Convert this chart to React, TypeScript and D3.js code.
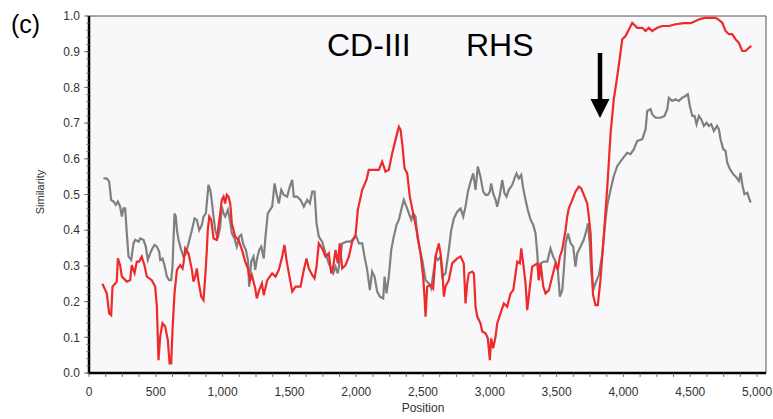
import React from "react";
import * as d3 from "d3";

// sliding-window similarity, query vs. two references
const redPos = [100, 133, 151, 166, 176, 208, 216, 233, 246, 283, 308, 320, 341, 358, 376, 395, 415, 433, 470, 495, 508, 520, 533, 550, 570, 590, 603, 615, 625, 640, 658, 683, 700, 707, 720, 745, 770, 782, 795, 807, 820, 840, 857, 870, 882, 889, 900, 915, 932, 957, 969, 982, 994, 1007, 1019, 1031, 1044, 1057, 1069, 1094, 1119, 1132, 1149, 1169, 1189, 1206, 1219, 1244, 1256, 1274, 1294, 1308, 1334, 1371, 1396, 1421, 1446, 1463, 1478, 1496, 1521, 1546, 1583, 1608, 1628, 1645, 1671, 1688, 1703, 1720, 1745, 1770, 1795, 1813, 1828, 1845, 1862, 1877, 1895, 1920, 1945, 1970, 1995, 2012, 2045, 2077, 2094, 2144, 2169, 2194, 2219, 2244, 2269, 2294, 2319, 2332, 2344, 2362, 2382, 2401, 2431, 2457, 2481, 2501, 2511, 2519, 2531, 2556, 2576, 2594, 2606, 2618, 2631, 2644, 2656, 2668, 2693, 2718, 2756, 2781, 2805, 2818, 2831, 2843, 2868, 2881, 2893, 2906, 2930, 2943, 2968, 2985, 3000, 3010, 3025, 3043, 3055, 3080, 3105, 3130, 3155, 3175, 3193, 3205, 3225, 3235, 3250, 3267, 3280, 3300, 3317, 3335, 3355, 3367, 3380, 3400, 3417, 3442, 3467, 3492, 3509, 3524, 3542, 3554, 3567, 3579, 3591, 3617, 3641, 3666, 3684, 3709, 3729, 3741, 3754, 3760, 3772, 3791, 3808, 3828, 3850, 3879, 3904, 3928, 3954, 3978, 3991, 4016, 4041, 4066, 4103, 4141, 4166, 4190, 4215, 4253, 4290, 4340, 4390, 4452, 4502, 4540, 4577, 4615, 4652, 4690, 4714, 4740, 4764, 4789, 4814, 4839, 4864, 4889, 4914, 4939, 4957];
const redSim = [0.25, 0.223, 0.167, 0.162, 0.242, 0.256, 0.321, 0.302, 0.27, 0.256, 0.26, 0.302, 0.28, 0.312, 0.312, 0.326, 0.302, 0.27, 0.26, 0.242, 0.186, 0.036, 0.102, 0.139, 0.13, 0.092, 0.027, 0.027, 0.12, 0.223, 0.289, 0.302, 0.293, 0.307, 0.349, 0.335, 0.289, 0.256, 0.27, 0.293, 0.256, 0.214, 0.204, 0.27, 0.345, 0.4, 0.438, 0.429, 0.377, 0.373, 0.41, 0.447, 0.485, 0.494, 0.475, 0.499, 0.494, 0.475, 0.419, 0.382, 0.373, 0.359, 0.34, 0.312, 0.293, 0.26, 0.274, 0.237, 0.209, 0.232, 0.251, 0.218, 0.26, 0.279, 0.27, 0.289, 0.326, 0.359, 0.317, 0.279, 0.228, 0.242, 0.242, 0.289, 0.321, 0.293, 0.274, 0.265, 0.298, 0.363, 0.349, 0.326, 0.335, 0.279, 0.298, 0.345, 0.307, 0.363, 0.293, 0.302, 0.326, 0.368, 0.387, 0.457, 0.513, 0.541, 0.569, 0.569, 0.569, 0.592, 0.564, 0.569, 0.615, 0.653, 0.69, 0.681, 0.643, 0.573, 0.559, 0.494, 0.438, 0.391, 0.335, 0.27, 0.214, 0.158, 0.242, 0.247, 0.237, 0.326, 0.345, 0.363, 0.335, 0.289, 0.214, 0.242, 0.26, 0.307, 0.321, 0.326, 0.307, 0.195, 0.251, 0.279, 0.284, 0.279, 0.186, 0.158, 0.139, 0.116, 0.111, 0.097, 0.036, 0.097, 0.069, 0.102, 0.139, 0.167, 0.195, 0.186, 0.223, 0.232, 0.279, 0.312, 0.307, 0.349, 0.307, 0.251, 0.176, 0.242, 0.298, 0.302, 0.307, 0.26, 0.307, 0.242, 0.223, 0.232, 0.27, 0.307, 0.289, 0.326, 0.345, 0.373, 0.4, 0.438, 0.461, 0.485, 0.508, 0.522, 0.517, 0.494, 0.475, 0.438, 0.391, 0.33, 0.22, 0.19, 0.19, 0.26, 0.37, 0.52, 0.673, 0.767, 0.832, 0.897, 0.935, 0.944, 0.962, 0.981, 0.967, 0.967, 0.958, 0.967, 0.958, 0.967, 0.972, 0.972, 0.977, 0.98, 0.98, 0.986, 0.992, 0.995, 0.995, 0.995, 0.989, 0.981, 0.958, 0.949, 0.949, 0.935, 0.925, 0.902, 0.902, 0.911, 0.916];

const greyPos = [108, 133, 151, 166, 183, 201, 216, 233, 246, 258, 271, 283, 296, 316, 333, 346, 371, 383, 408, 425, 440, 458, 470, 490, 508, 525, 533, 550, 565, 583, 600, 615, 625, 640, 650, 658, 670, 690, 707, 725, 745, 770, 790, 807, 825, 845, 857, 875, 894, 907, 915, 932, 945, 964, 982, 994, 1007, 1019, 1039, 1057, 1069, 1089, 1106, 1124, 1139, 1156, 1174, 1189, 1199, 1214, 1231, 1244, 1256, 1274, 1289, 1308, 1321, 1338, 1371, 1389, 1403, 1421, 1439, 1458, 1483, 1503, 1521, 1533, 1558, 1583, 1608, 1633, 1653, 1671, 1688, 1703, 1720, 1745, 1770, 1795, 1813, 1828, 1845, 1862, 1882, 1895, 1927, 1957, 1982, 2002, 2020, 2045, 2062, 2082, 2102, 2119, 2137, 2157, 2177, 2202, 2212, 2227, 2244, 2262, 2281, 2302, 2319, 2337, 2356, 2376, 2394, 2412, 2427, 2444, 2457, 2476, 2494, 2519, 2543, 2561, 2581, 2594, 2611, 2631, 2644, 2668, 2693, 2711, 2731, 2756, 2781, 2801, 2818, 2836, 2856, 2876, 2893, 2910, 2930, 2950, 2968, 2985, 3000, 3010, 3025, 3043, 3055, 3075, 3093, 3110, 3125, 3142, 3168, 3185, 3200, 3217, 3235, 3250, 3267, 3284, 3305, 3325, 3342, 3355, 3367, 3380, 3404, 3430, 3454, 3474, 3492, 3509, 3524, 3542, 3554, 3567, 3585, 3605, 3624, 3641, 3654, 3679, 3703, 3723, 3734, 3748, 3758, 3774, 3791, 3816, 3841, 3866, 3879, 3904, 3928, 3954, 3991, 4028, 4053, 4078, 4103, 4141, 4166, 4178, 4203, 4215, 4240, 4278, 4308, 4328, 4340, 4365, 4390, 4415, 4440, 4465, 4482, 4497, 4515, 4532, 4547, 4565, 4582, 4602, 4622, 4639, 4657, 4677, 4700, 4714, 4727, 4747, 4764, 4777, 4797, 4822, 4847, 4864, 4877, 4889, 4906, 4927, 4939, 4952];
const greySim = [0.545, 0.545, 0.536, 0.485, 0.48, 0.471, 0.48, 0.466, 0.438, 0.461, 0.461, 0.391, 0.326, 0.317, 0.363, 0.373, 0.368, 0.377, 0.373, 0.354, 0.317, 0.335, 0.345, 0.359, 0.354, 0.34, 0.317, 0.321, 0.302, 0.27, 0.26, 0.26, 0.298, 0.447, 0.438, 0.4, 0.373, 0.345, 0.326, 0.335, 0.363, 0.4, 0.433, 0.429, 0.4, 0.415, 0.438, 0.447, 0.527, 0.513, 0.494, 0.438, 0.4, 0.377, 0.41, 0.466, 0.447, 0.438, 0.457, 0.424, 0.391, 0.377, 0.354, 0.382, 0.387, 0.359, 0.345, 0.317, 0.242, 0.312, 0.326, 0.289, 0.317, 0.345, 0.354, 0.321, 0.382, 0.447, 0.466, 0.531, 0.503, 0.475, 0.513, 0.499, 0.494, 0.522, 0.541, 0.494, 0.494, 0.485, 0.466, 0.485, 0.475, 0.508, 0.508, 0.419, 0.382, 0.368, 0.335, 0.307, 0.289, 0.279, 0.298, 0.279, 0.326, 0.363, 0.368, 0.368, 0.377, 0.382, 0.363, 0.363, 0.326, 0.289, 0.232, 0.284, 0.27, 0.228, 0.214, 0.209, 0.27, 0.223, 0.27, 0.345, 0.382, 0.415, 0.429, 0.457, 0.485, 0.466, 0.447, 0.429, 0.447, 0.438, 0.382, 0.345, 0.317, 0.26, 0.251, 0.237, 0.289, 0.326, 0.317, 0.326, 0.27, 0.279, 0.345, 0.4, 0.433, 0.452, 0.461, 0.438, 0.466, 0.508, 0.536, 0.559, 0.513, 0.578, 0.55, 0.508, 0.499, 0.499, 0.508, 0.531, 0.503, 0.485, 0.466, 0.499, 0.541, 0.503, 0.494, 0.513, 0.527, 0.545, 0.559, 0.545, 0.555, 0.517, 0.485, 0.457, 0.429, 0.415, 0.391, 0.335, 0.26, 0.307, 0.312, 0.312, 0.349, 0.326, 0.312, 0.289, 0.214, 0.232, 0.289, 0.363, 0.391, 0.363, 0.354, 0.298, 0.335, 0.354, 0.373, 0.4, 0.419, 0.363, 0.289, 0.232, 0.252, 0.275, 0.33, 0.43, 0.47, 0.514, 0.552, 0.58, 0.599, 0.617, 0.613, 0.627, 0.65, 0.655, 0.683, 0.734, 0.739, 0.725, 0.715, 0.715, 0.72, 0.739, 0.771, 0.762, 0.767, 0.762, 0.771, 0.776, 0.781, 0.748, 0.72, 0.72, 0.697, 0.72, 0.711, 0.692, 0.701, 0.692, 0.697, 0.678, 0.692, 0.683, 0.655, 0.627, 0.622, 0.589, 0.571, 0.557, 0.547, 0.538, 0.561, 0.529, 0.501, 0.505, 0.491, 0.477];

const xTicks = [0, 500, 1000, 1500, 2000, 2500, 3000, 3500, 4000, 4500, 5000];
const yTicks = [0, 0.1, 0.2, 0.3, 0.4, 0.5, 0.6, 0.7, 0.8, 0.9, 1.0];

const W = 773;
const H = 419;
const left = 89, right = 766, top = 16, bottom = 373;
const font = "'Liberation Sans', Arial, Helvetica, sans-serif";

export default function App() {
  const x = d3.scaleLinear().domain([0, 5067]).range([left, right]);
  const y = d3.scaleLinear().domain([0, 1]).range([bottom, top]);

  const path = (pos: number[], val: number[]) =>
    d3
      .line<number>()
      .x((_, i) => x(pos[i]))
      .y((_, i) => y(val[i]))(val) || "";

  const fmt = d3.format(",");
  const minorX = d3.range(0, 5067, 125);
  const minorY = d3.range(0, 1.0001, 0.02);
  const arrowX = 600; // arrow marks the breakpoint just before 4,000

  return (
    <svg width={W} height={H} style={{ position: "absolute", left: 0, top: 0, background: "#fff" }}>
      <rect x={left} y={top} width={right - left} height={bottom - top} fill="#f8f7fa" />

      {/* frame */}
      <line x1={left} x2={right} y1={top} y2={top} stroke="#555" strokeWidth={1} />
      <line x1={right} x2={right} y1={top} y2={bottom} stroke="#555" strokeWidth={1} />

      {/* series */}
      <path d={path(greyPos, greySim)} fill="none" stroke="#808080" strokeWidth={2.2} />
      <path d={path(redPos, redSim)} fill="none" stroke="#ee2a2a" strokeWidth={2.2} />

      {/* axes */}
      <line x1={left} x2={left} y1={top} y2={bottom + 1} stroke="#000" strokeWidth={2.5} />
      <line x1={left - 1} x2={right} y1={bottom} y2={bottom} stroke="#000" strokeWidth={2.5} />

      {minorX.map((t) => (
        <line key={"mx" + t} x1={x(t)} x2={x(t)} y1={bottom} y2={bottom + 4} stroke="#555" strokeWidth={0.8} />
      ))}
      {minorY.map((t) => (
        <line key={"my" + t} x1={left - 3} x2={left} y1={y(t)} y2={y(t)} stroke="#777" strokeWidth={0.8} />
      ))}
      {yTicks.map((t) => (
        <g key={"y" + t}>
          <line x1={left - 5} x2={left} y1={y(t)} y2={y(t)} stroke="#555" strokeWidth={0.8} />
          <text x={80} y={y(t)} dy="0.35em" textAnchor="end" fontSize={12} fill="#333" fontFamily={font}>
            {t.toFixed(1)}
          </text>
        </g>
      ))}
      {xTicks.map((t) => (
        <text key={"x" + t} x={x(t)} y={396} textAnchor="middle" fontSize={12} fill="#333" fontFamily={font}>
          {fmt(t)}
        </text>
      ))}

      <text x={x(2500)} y={412} textAnchor="middle" fontSize={12} fill="#333" fontFamily={font}>
        Position
      </text>
      <text transform="translate(44,192) rotate(-90)" textAnchor="middle" fontSize={11} fill="#333" fontFamily={font}>
        Similarity
      </text>

      {/* annotations */}
      <text x={11} y={33} fontSize={25} fill="#000" fontFamily={font}>
        (c)
      </text>
      <text x={327} y={56} fontSize={32} fill="#000" fontFamily={font}>
        CD-III
      </text>
      <text x={466} y={56} fontSize={32} fill="#000" fontFamily={font}>
        RHS
      </text>
      <line x1={arrowX} x2={arrowX} y1={53} y2={102} stroke="#000" strokeWidth={4.5} />
      <path d={`M${arrowX - 9.5},99 L${arrowX + 9.5},99 L${arrowX},118 Z`} fill="#000" />
    </svg>
  );
}
